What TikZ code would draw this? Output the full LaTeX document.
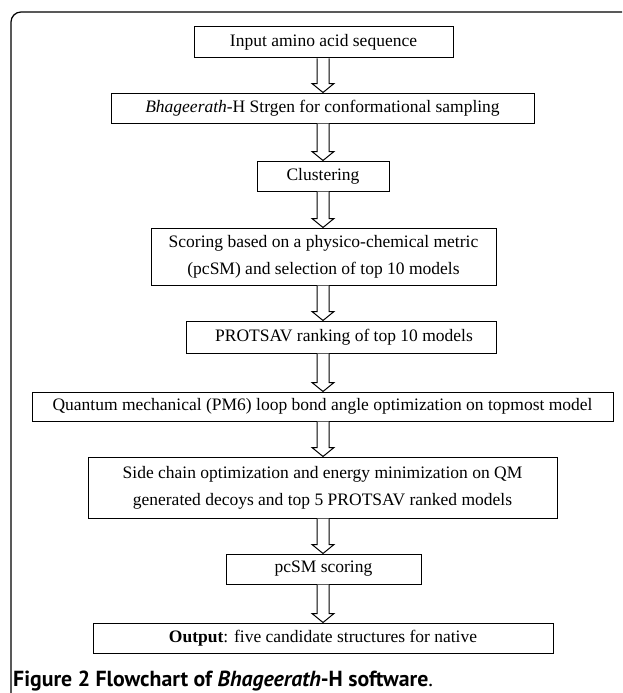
\documentclass[tikz,border=0pt]{standalone}
\usepackage{fontspec}
\setmainfont{Liberation Serif}
\newfontfamily\capfont{PT Sans}
\usetikzlibrary{calc}
\tikzset{
  stepbox/.style={draw, line width=1pt, inner sep=0pt, align=center, font=\fontsize{17.5}{27}\selectfont},
  hollow/.style={draw, line width=1pt, fill=white, line join=miter}
}
\begin{document}
\begin{tikzpicture}[x=1pt, y=-1pt]
\useasboundingbox (0,0) rectangle (622,693);
\fill[white] (0,0) rectangle (622,693);
\draw[line width=1.2pt, rounded corners=10pt] (11,693)--(11,12)--(622,12);
\coordinate (axis) at (323,0);
\node[stepbox, minimum width=259pt, minimum height=31pt] (input) at (323.5,42.5) {Input amino acid sequence};
\node[stepbox, minimum width=423pt, minimum height=30pt] (strgen) at (322.5,108) {\textit{Bhageerath}-H Strgen for conformational sampling};
\node[stepbox, minimum width=132pt, minimum height=30pt] (cluster) at (323,176) {Clustering};
\node[stepbox, minimum width=345pt, minimum height=57pt] (scoring) at (323.5,256.5) {Scoring based on a physico-chemical metric\\(pcSM) and selection of top 10 models};
\node[stepbox, minimum width=310pt, minimum height=32pt] (protsav) at (341,337) {\hspace{6pt}PROTSAV ranking of top 10 models};
\node[stepbox, minimum width=581pt, minimum height=29pt] (quantum) at (322.5,406.5) {Quantum mechanical (PM6) loop bond angle optimization on topmost model};
\node[stepbox, minimum width=469pt, minimum height=61pt] (sidechain) at (322.5,487.5) {Side chain optimization and energy minimization on QM\\generated decoys and top 5 PROTSAV ranked models};
\node[stepbox, minimum width=195pt, minimum height=30pt] (pcsm) at (323.5,569) {pcSM scoring};
\node[stepbox, minimum width=460pt, minimum height=30pt] (output) at (323,638) {\textbf{Output}: five candidate structures for native};
\foreach \a/\b in {input/strgen, strgen/cluster, cluster/scoring, scoring/protsav, protsav/quantum, quantum/sidechain, sidechain/pcsm, pcsm/output}
  \draw[hollow] ($(\a.south -| axis)+(-6,0)$) -- ($(\b.north -| axis)+(-6,-9)$) -- ($(\b.north -| axis)+(-11,-9)$) -- (\b.north -| axis) -- ($(\b.north -| axis)+(11,-9)$) -- ($(\b.north -| axis)+(6,-9)$) -- ($(\a.south -| axis)+(6,0)$);
\node[anchor=base west, inner sep=0pt, font=\capfont\fontsize{21.8}{26}\selectfont] (caption) at (13,686) {\textbf{Figure 2 Flowchart of \textit{Bhageerath}-H software}.};
\end{tikzpicture}
\end{document}
